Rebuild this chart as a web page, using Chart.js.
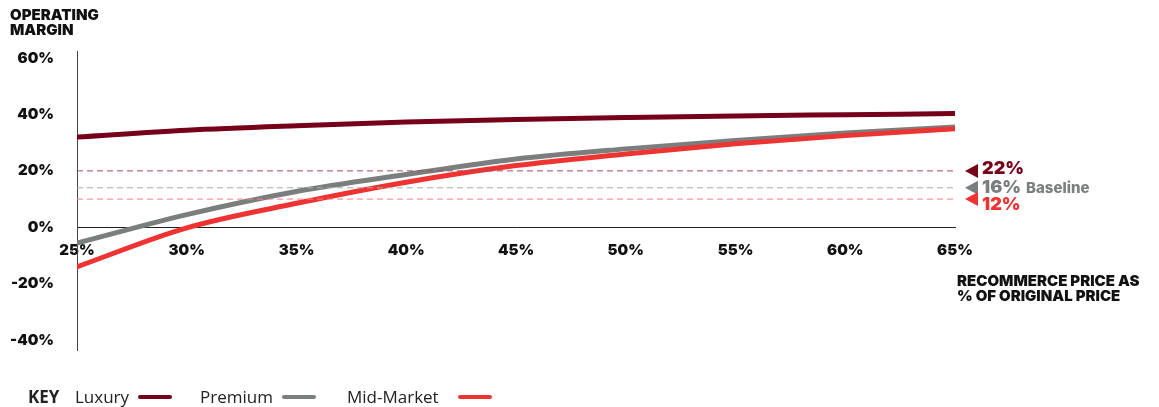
<!DOCTYPE html>
<html>
<head>
<meta charset="utf-8">
<script src="https://cdn.jsdelivr.net/npm/chart.js@4.4.0/dist/chart.umd.min.js"></script>
<style>
  html, body { margin: 0; padding: 0; background: #fff; }
  #wrap { position: relative; width: 1159px; height: 407px; overflow: hidden; }
  #chart { position: absolute; left: 0; top: 0; }
  .ttl { position: absolute; font-family: Inter, "Noto Sans", sans-serif; font-weight: 900;
         font-size: 15px; line-height: 15px; color: #111; letter-spacing: 0px; }
  #legend { position: absolute; left: 28px; top: 385px; font-family: "Open Sans", "Noto Sans", sans-serif;
            font-size: 17px; color: #222; white-space: nowrap; }
  #legend span { position: absolute; top: 0; }
  #legend i { position: absolute; top: 10px; height: 4px; border-radius: 2px; width: 34px; }
</style>
</head>
<body>
<div id="wrap">
  <canvas id="chart" width="1159" height="407"></canvas>
  <div class="ttl" style="left:10px; top:7px;">OPERATING<br>MARGIN</div>
  <div class="ttl" style="left:957px; top:273px;">RECOMMERCE PRICE AS<br>% OF ORIGINAL PRICE</div>
  <div id="legend"></div>
</div>
<script>
/* data */
const priceLevels = [25, 30, 35, 40, 45, 50, 55, 60, 65];
const luxury      = [32, 34.4, 36, 37.3, 38.2, 38.9, 39.5, 39.9, 40.3];
const premium     = [-5.6, 4.5, 12.7, 18.7, 24.2, 27.8, 30.8, 33.4, 35.6];
const midMarket   = [-14, -0.2, 8.5, 16.0, 21.9, 26.0, 29.6, 32.5, 34.9];

const seriesNames  = ["Luxury", "Premium", "Mid-Market"];
const seriesColors = ["#76001a", "#7b7e7e", "#ee3333"];
const dashColors   = ["#a84a5a", "#a9abab", "#f48080"];

// baseline reference lines (where they sit) and the labels printed next to them
const baselineValues = [20, 14, 10];
const baselineLabels = ["22%", "16%", "12%"];
const yTicks = [-40, -20, 0, 20, 40, 60];

const tickFont = { family: "Inter, 'Noto Sans', sans-serif", size: 15, weight: "900" };

/* legend */
const legendEl = document.getElementById("legend");
const legendPos = [[47, 110], [172, 254], [319, 430]];
legendEl.innerHTML = '<span style="left:0;font-weight:700;">KEY</span>';
seriesNames.forEach((n, i) => {
  legendEl.innerHTML += `<span style="left:${legendPos[i][0]}px">${n}</span>` +
    `<i style="left:${legendPos[i][1]}px;background:${seriesColors[i]}"></i>`;
});

/* dashed baselines + markers on the right */
const baselinePlugin = {
  id: "baselines",
  afterDatasetsDraw(chart) {
    const { ctx, chartArea, scales } = chart;
    const y = scales.y;
    const textOffsets = [-2, 0, 6];
    ctx.save();
    baselineValues.forEach((v, i) => {
      const py = y.getPixelForValue(v);
      ctx.strokeStyle = dashColors[i];
      ctx.lineWidth = 1;
      ctx.setLineDash([6, 4]);
      ctx.beginPath();
      ctx.moveTo(chartArea.left, py);
      ctx.lineTo(chartArea.right, py);
      ctx.stroke();
      ctx.setLineDash([]);
      // triangle pointing left
      ctx.fillStyle = seriesColors[i];
      ctx.beginPath();
      ctx.moveTo(chartArea.right + 10, py);
      ctx.lineTo(chartArea.right + 23, py - 7);
      ctx.lineTo(chartArea.right + 23, py + 7);
      ctx.closePath();
      ctx.fill();
      // label
      ctx.font = "900 18px Inter, 'Noto Sans', sans-serif";
      ctx.textBaseline = "middle";
      ctx.textAlign = "left";
      ctx.fillText(baselineLabels[i], chartArea.right + 27, py + textOffsets[i]);
      if (i === 1) {
        const w = ctx.measureText(baselineLabels[i]).width;
        ctx.font = "800 15px Inter, 'Noto Sans', sans-serif";
        ctx.fillText("Baseline", chartArea.right + 27 + w + 5, py + 1);
      }
    });
    ctx.restore();
  }
};

const datasets = [luxury, premium, midMarket].map((vals, i) => ({
  label: seriesNames[i],
  data: priceLevels.map((x, k) => ({ x, y: vals[k] })),
  borderColor: seriesColors[i],
  borderWidth: 5,
  borderCapStyle: "round",
  pointRadius: 0,
  cubicInterpolationMode: "monotone",
  fill: false
})).reverse();

new Chart(document.getElementById("chart"), {
  type: "line",
  data: { datasets },
  plugins: [baselinePlugin],
  options: {
    responsive: false,
    animation: false,
    layout: { padding: { top: 51, bottom: 57, right: 204, left: 0 } },
    plugins: { legend: { display: false }, tooltip: { enabled: false } },
    scales: {
      x: {
        type: "linear",
        min: 25, max: 65,
        position: { y: 0 },
        grid: { display: false },
        border: { display: true, color: "#222", width: 1 },
        ticks: {
          stepSize: 5,
          color: "#111",
          font: tickFont,
          padding: 6,
          callback: v => v + "%"
        }
      },
      y: {
        min: -43.5, max: 62.5,
        grid: { display: false },
        border: { display: true, color: "#444", width: 1 },
        afterFit(scale) { scale.width = 77; },
        afterBuildTicks(scale) { scale.ticks = yTicks.map(v => ({ value: v })); },
        ticks: {
          color: "#111",
          font: tickFont,
          padding: 15,
          callback: v => v + "%"
        }
      }
    }
  }
});
</script>
</body>
</html>
